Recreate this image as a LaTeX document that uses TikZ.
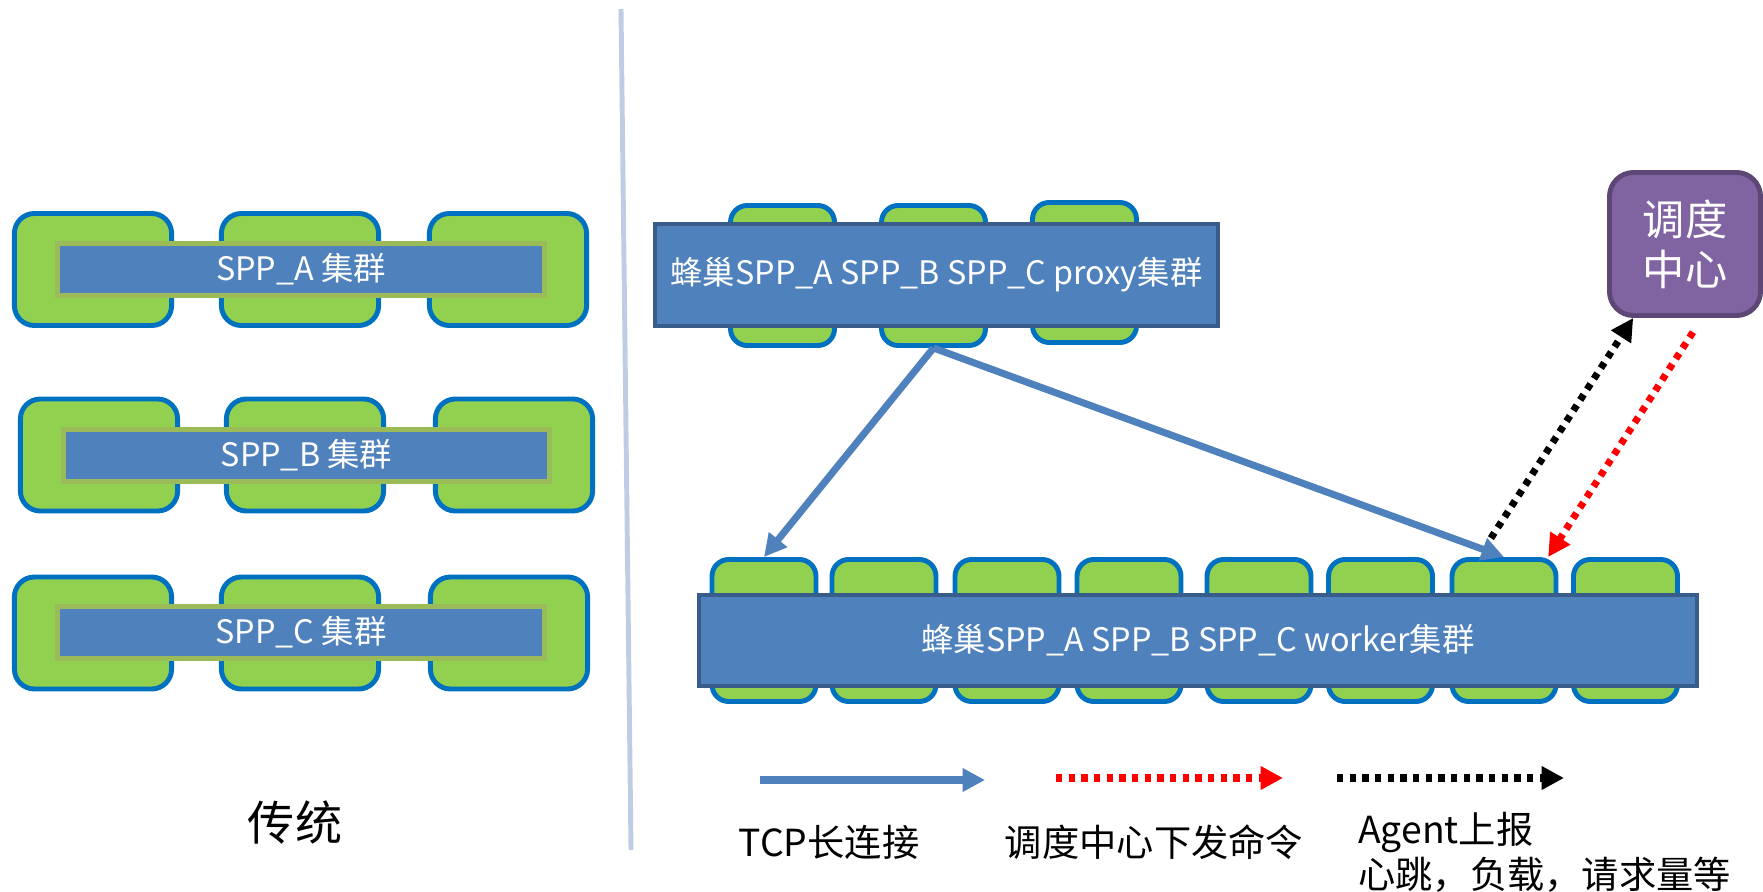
\documentclass[tikz,border=0pt]{standalone}
\usepackage{fontspec}
\setmainfont{Noto Sans CJK SC}
\usetikzlibrary{arrows.meta}
\definecolor{cellgreen}{RGB}{146,208,80}
\definecolor{cellblue}{RGB}{0,112,192}
\definecolor{barblue}{RGB}{79,129,189}
\definecolor{barolive}{RGB}{155,187,89}
\definecolor{bardark}{RGB}{56,93,138}
\definecolor{dcpurple}{RGB}{128,100,162}
\definecolor{dcedge}{RGB}{92,71,118}
\definecolor{divgray}{RGB}{190,205,228}

\tikzset{
    cell/.style={draw=cellblue, fill=cellgreen, line width=3.5pt, rounded corners=0.5cm,
        minimum width=3.93cm, minimum height=2.8cm},
    smallcell/.style={cell, rounded corners=0.42cm, minimum width=2.6cm, minimum height=3.5cm},
    sppbar/.style={draw=barolive, fill=barblue, line width=3.5pt, text=white,
        font=\fontsize{23}{27}\selectfont, minimum width=12.15cm, minimum height=1.3cm},
    clusterbar/.style={draw=bardark, fill=barblue, line width=2.8pt, text=white,
        font=\fontsize{23}{27}\selectfont},
    legendtxt/.style={inner sep=0pt, font=\fontsize{26.5}{32}\selectfont},
    tcpline/.style={barblue, line width=5pt, -{Triangle[length=16pt,width=16pt]}},
    cmdline/.style={red, line width=5pt, dash pattern=on 4.5pt off 4.5pt, -{Triangle[length=16pt,width=16pt]}},
    agentline/.style={black, line width=5pt, dash pattern=on 4.5pt off 4.5pt, -{Triangle[length=16pt,width=16pt]}}
}

\begin{document}
\begin{tikzpicture}[x=0.025cm, y=-0.025cm]
    \useasboundingbox (0,0) rectangle (1763,892);

    % traditional clusters
    \node[cell] (a1) at (93,269.5) {};
    \node[cell] (a2) at (300,269.5) {};
    \node[cell] (a3) at (508,269.5) {};
    \node[sppbar] (sppa) at (301,269.5) {SPP\_A 集群};

    \node[cell] (b1) at (99,455) {};
    \node[cell] (b2) at (305,455) {};
    \node[cell] (b3) at (514,455) {};
    \node[sppbar] (sppb) at (306.5,455.5) {SPP\_B 集群};

    \node[cell] (c1) at (93,633) {};
    \node[cell] (c2) at (300,633) {};
    \node[cell] (c3) at (509,633) {};
    \node[sppbar] (sppc) at (301,632.5) {SPP\_C 集群};

    \node[font=\fontsize{33.5}{40}\selectfont] (trad) at (295,822) {传统};

    \draw[divgray, line width=3.5pt] (621,9) -- (631,850);

    % proxy cluster
    \node[smallcell] (p1) at (782.5,275.5) {};
    \node[smallcell] (p2) at (933.5,275.5) {};
    \node[smallcell] (p3) at (1084.5,272.5) {};
    \node[clusterbar, minimum width=14.075cm, minimum height=2.55cm]
        (px) at (936.5,275) {蜂巢SPP\_A SPP\_B SPP\_C proxy集群};

    % worker cluster
    \node[smallcell, minimum height=3.55cm] (w1) at (764,630.5) {};
    \node[smallcell, minimum height=3.55cm] (w2) at (884,630.5) {};
    \node[smallcell, minimum height=3.55cm] (w3) at (1007,630.5) {};
    \node[smallcell, minimum height=3.55cm] (w4) at (1129,630.5) {};
    \node[smallcell, minimum height=3.55cm] (w5) at (1259,630.5) {};
    \node[smallcell, minimum height=3.55cm] (w6) at (1380.5,630.5) {};
    \node[smallcell, minimum height=3.55cm] (w7) at (1504,630.5) {};
    \node[smallcell, minimum height=3.55cm] (w8) at (1625.5,630.5) {};
    \node[clusterbar, minimum width=24.95cm, minimum height=2.275cm]
        (wk) at (1198,640.5) {蜂巢SPP\_A SPP\_B SPP\_C worker集群};

    % dispatch center
    \node[draw=dcedge, fill=dcpurple, line width=3.5pt, rounded corners=0.6cm, text=white,
        minimum width=3.775cm, minimum height=3.575cm, align=center,
        font=\fontsize{30}{35.5}\selectfont] (dc) at (1685,244) {调度\\中心};

    \draw[tcpline] (p2.south) -- (w1.north);
    \draw[tcpline] (p2.south) -- (w7.north);
    \draw[agentline, shorten <=16pt] (w7.109) -- (dc.235);
    \draw[cmdline, shorten <=12pt] (dc.283) -- (w7.59);

    % legend
    \coordinate (t0) at (760,780);
    \coordinate (t1) at (985,780);
    \coordinate (r0) at (1056,778);
    \coordinate (r1) at (1283,778);
    \coordinate (k0) at (1337,778);
    \coordinate (k1) at (1564,778);
    \draw[tcpline] (t0) -- (t1);
    \draw[cmdline] (r0) -- (r1);
    \draw[agentline] (k0) -- (k1);

    \node[legendtxt] (ltcp) at (829,842) {TCP长连接};
    \node[legendtxt] (lcmd) at (1154,842) {调度中心下发命令};
    \node[legendtxt, anchor=west, align=left] (lagent) at (1358,852) {Agent上报\\心跳，负载，请求量等};
\end{tikzpicture}
\end{document}
